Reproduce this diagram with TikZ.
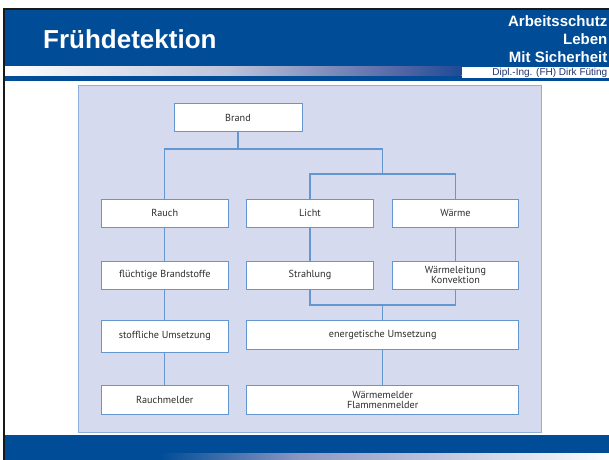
\documentclass[tikz,border=0pt]{standalone}
\usepackage{fontspec}
\newfontfamily\hdrfont{Liberation Sans}
\newfontfamily\boxfont{PT Sans}
\definecolor{hdrblue}{RGB}{0,76,151}
\definecolor{panelfill}{RGB}{213,218,238}
\definecolor{panelline}{RGB}{143,176,222}
\definecolor{boxline}{RGB}{100,150,208}
\definecolor{txtgray}{RGB}{45,45,45}
\definecolor{navy}{RGB}{30,50,110}
\definecolor{gA}{RGB}{188,195,218}
\definecolor{gB}{RGB}{83,102,166}
\definecolor{gC}{RGB}{30,74,149}
\definecolor{bA}{RGB}{140,151,194}
\tikzset{
  x=1pt, y=-1pt,
  box/.style={draw=boxline, line width=0.9pt, fill=white, inner sep=0pt,
    minimum height=28.5pt, text=txtgray,
    font=\boxfont\fontsize{10.2}{10}\selectfont, align=center},
  conn/.style={draw=boxline, line width=1.2pt},
  hdrtxt/.style={inner sep=0pt, text=white, font=\hdrfont\bfseries\fontsize{15}{15}\selectfont, anchor=base east}
}
\begin{document}
\begin{tikzpicture}
\useasboundingbox (0,0) rectangle (609,459);
\fill[white] (0,0) rectangle (609,459);
% header
\fill[hdrblue] (5,10) rectangle (612,66.7);
\fill[hdrblue] (5,75.9) rectangle (461.5,81);
\fill[hdrblue] (461.4,77.6) rectangle (612,81);
\shade[left color=white, right color=gA] (5,66.7) rectangle (230,75.9);
\shade[left color=gA, right color=gB] (229.5,66.7) rectangle (400,75.9);
\shade[left color=gB, right color=gC] (399.5,66.7) rectangle (461.5,75.9);
% footer
\fill[hdrblue] (5,435) rectangle (612,462);
\shade[left color=hdrblue, right color=bA] (160,453) rectangle (300,462);
\shade[left color=bA, right color=white] (299.5,453) rectangle (612,462);
% black frame lines
\fill[black!90] (3,7.7) rectangle (612,10);
\fill[black!90] (3,7.7) rectangle (5,462);
% header texts
\node[inner sep=0pt, text=white, font=\hdrfont\bfseries\fontsize{26}{26}\selectfont, anchor=base west] (title) at (43,48) {Frühdetektion};
\node[hdrtxt] (h1) at (607.5,26.3) {Arbeitsschutz};
\node[hdrtxt] (h2) at (607.5,44.3) {Leben};
\node[hdrtxt] (h3) at (607.5,62.5) {Mit Sicherheit};
\node[inner sep=0pt, text=navy, font=\hdrfont\fontsize{10}{10}\selectfont, anchor=base east] (h4) at (607.5,75) {Dipl.-Ing. (FH) Dirk Füting};
% panel
\draw[fill=panelfill, draw=panelline, line width=1pt] (78,85) rectangle (541,432);
% boxes
\node[box, minimum width=128pt] (brand) at (238,117.5) {Brand};
\node[box, minimum width=127pt, minimum height=28pt] (rauch) at (164.8,213.2) {Rauch};
\node[box, minimum width=126.5pt, minimum height=28pt] (licht) at (310,213.2) {Licht};
\node[box, minimum width=126.5pt, minimum height=28pt] (waerme) at (455.5,213.2) {Wärme};
\node[box, minimum width=127pt, minimum height=28pt] (fluecht) at (164.8,275.3) {flüchtige Brandstoffe};
\node[box, minimum width=126.5pt, minimum height=28pt] (strahl) at (310,275.3) {Strahlung};
\node[box, minimum width=126.5pt, minimum height=28pt] (leitung) at (455.5,275.3) {Wärmeleitung\\Konvektion};
\node[box, minimum width=127pt, minimum height=32pt] (stoff) at (164.8,336.2) {stoffliche Umsetzung};
\node[box, minimum width=272pt, minimum height=28.7pt] (energ) at (382.7,334.6) {energetische Umsetzung};
\node[box, minimum width=127pt, minimum height=29pt] (rauchm) at (164.8,399.8) {Rauchmelder};
\node[box, minimum width=272pt, minimum height=29pt] (waermem) at (382.7,399.8) {Wärmemelder\\Flammenmelder};
% junctions
\coordinate (j1) at (238,149);
\coordinate (j2) at (382.7,174);
\coordinate (j3) at (382.7,305);
% connectors
\draw[conn] (brand.south) -- (j1);
\draw[conn] (rauch.north) |- (j1);
\draw[conn] (j1) -| (j2);
\draw[conn] (licht.north) |- (j2);
\draw[conn] (waerme.north) |- (j2);
\draw[conn] (rauch.south) -- (fluecht.north);
\draw[conn] (licht.south) -- (strahl.north);
\draw[conn] (waerme.south) -- (leitung.north);
\draw[conn] (fluecht.south) -- (stoff.north);
\draw[conn] (strahl.south) |- (j3);
\draw[conn] (leitung.south) |- (j3);
\draw[conn] (j3) -- (energ.north);
\draw[conn] (stoff.south) -- (rauchm.north);
\draw[conn] (energ.south) -- (waermem.north);
\end{tikzpicture}
\end{document}
